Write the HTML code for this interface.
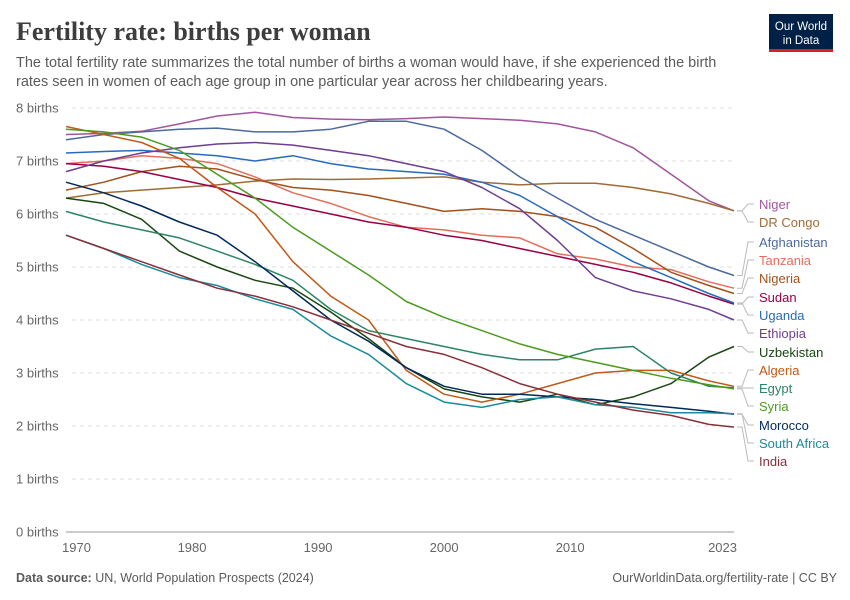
<!DOCTYPE html>
<html><head><meta charset="utf-8"><style>
body{margin:0;background:#fff;font-family:"Liberation Sans",sans-serif;}
#wrap{position:relative;width:850px;height:600px;overflow:hidden}
</style></head><body><div id="wrap">
<svg id="svg" width="850" height="600" xmlns="http://www.w3.org/2000/svg">
<text x="16" y="40" font-family="Liberation Serif,serif" font-size="26" font-weight="bold" fill="#3d3d3d">Fertility rate: births per woman</text>
<text x="16" y="67" font-size="14.5" fill="#5b5b5b">The total fertility rate summarizes the total number of births a woman would have, if she experienced the birth</text>
<text x="16" y="86" font-size="14.5" fill="#5b5b5b">rates seen in women of each age group in one particular year across her childbearing years.</text>
<g><rect x="769" y="14" width="64" height="37" fill="#002147"/><rect x="769" y="49" width="64" height="3" fill="#ce261e"/>
<text x="801" y="30" text-anchor="middle" font-size="11.5" fill="#fff">Our World</text><text x="801" y="44" text-anchor="middle" font-size="11.5" fill="#fff">in Data</text></g>
<g id="grid"></g><g id="series"></g><g id="labels"></g>
<text x="16" y="582" font-size="12.5" fill="#5b5b5b"><tspan font-weight="bold">Data source: </tspan>UN, World Population Prospects (2024)</text>
<text x="837" y="582" text-anchor="end" font-size="12.5" fill="#5b5b5b">OurWorldinData.org/fertility-rate | CC BY</text>
</svg></div>
<script>
const years=[1970,1973,1976,1979,1982,1985,1988,1991,1994,1997,2000,2003,2006,2009,2012,2015,2018,2021,2023];
const yTicks=[0,1,2,3,4,5,6,7,8];
const xTicks=[1970,1980,1990,2000,2010,2023];
const countries=["Niger","DR Congo","Afghanistan","Tanzania","Nigeria","Sudan","Uganda","Ethiopia","Uzbekistan","Algeria","Egypt","Syria","Morocco","South Africa","India"];
const colors=["#a2559c","#a06c35","#4c6a9c","#e56e5a","#a3511c","#970046","#286bbb","#6d3e91","#18470f","#c05917","#2c8465","#4c9b1f","#00295b","#1a8b9b","#883039"];
const niger=[7.5,7.52,7.56,7.7,7.85,7.92,7.82,7.79,7.78,7.8,7.83,7.8,7.77,7.7,7.55,7.25,6.75,6.25,6.06];
const drcongo=[6.3,6.4,6.45,6.5,6.55,6.62,6.66,6.65,6.66,6.68,6.7,6.6,6.55,6.58,6.58,6.5,6.38,6.2,6.06];
const afghanistan=[7.4,7.5,7.55,7.6,7.62,7.55,7.55,7.6,7.75,7.75,7.6,7.2,6.7,6.3,5.9,5.6,5.3,5.0,4.84];
const tanzania=[6.95,7.0,7.1,7.05,6.95,6.7,6.4,6.2,5.95,5.75,5.7,5.6,5.55,5.25,5.15,5.0,4.95,4.72,4.6];
const nigeria=[6.45,6.6,6.8,6.9,6.85,6.65,6.5,6.45,6.35,6.2,6.05,6.1,6.05,5.95,5.75,5.35,4.9,4.65,4.5];
const sudan=[6.95,6.9,6.8,6.65,6.5,6.3,6.15,6.0,5.85,5.75,5.6,5.5,5.35,5.2,5.05,4.9,4.7,4.45,4.3];
const uganda=[7.15,7.18,7.2,7.15,7.1,7.0,7.1,6.95,6.85,6.8,6.75,6.6,6.35,5.95,5.5,5.1,4.8,4.5,4.32];
const ethiopia=[6.8,7.0,7.15,7.25,7.32,7.35,7.3,7.2,7.1,6.95,6.8,6.5,6.1,5.5,4.8,4.55,4.4,4.2,4.0];
const uzbekistan=[6.3,6.2,5.9,5.3,5.0,4.75,4.6,4.15,3.65,3.1,2.7,2.55,2.45,2.6,2.4,2.55,2.8,3.3,3.5];
const algeria=[7.65,7.5,7.35,7.05,6.5,6.0,5.1,4.45,4.0,3.05,2.6,2.45,2.6,2.8,3.0,3.05,3.05,2.85,2.75];
const egypt=[6.05,5.85,5.7,5.55,5.3,5.05,4.75,4.2,3.8,3.65,3.5,3.35,3.25,3.25,3.45,3.5,3.0,2.75,2.72];
const syria=[7.6,7.55,7.45,7.2,6.75,6.3,5.75,5.3,4.85,4.35,4.05,3.8,3.55,3.35,3.2,3.05,2.9,2.78,2.7];
const morocco=[6.6,6.4,6.15,5.85,5.6,5.1,4.55,4.0,3.6,3.1,2.75,2.6,2.6,2.55,2.5,2.42,2.35,2.28,2.22];
const southafrica=[5.6,5.35,5.05,4.8,4.65,4.4,4.2,3.7,3.35,2.8,2.45,2.35,2.5,2.55,2.4,2.35,2.25,2.25,2.23];
const india=[5.6,5.35,5.1,4.85,4.6,4.45,4.25,4.0,3.75,3.5,3.35,3.1,2.8,2.6,2.45,2.3,2.2,2.03,1.98];
const seriesData=[niger,drcongo,afghanistan,tanzania,nigeria,sudan,uganda,ethiopia,uzbekistan,algeria,egypt,syria,morocco,southafrica,india];
const NS="http://www.w3.org/2000/svg";
const X=y=>66+(y-1970)*(734-66)/53;
const Y=v=>532-v*53;
function mk(t,a,p){const e=document.createElementNS(NS,t);for(const k in a)e.setAttribute(k,a[k]);p.appendChild(e);return e;}
const grid=document.getElementById('grid');
yTicks.forEach(v=>{
  const l=mk('line',{x1:v===0?66:72,x2:734,y1:Y(v),y2:Y(v),stroke:v===0?'#999':'#ddd','stroke-dasharray':v===0?'':'4,4'},grid);
  
  
  const t=mk('text',{x:16,y:Y(v)+4.5,'font-size':13,fill:'#666'},grid);t.textContent=v+' births';
  
  
});
xTicks.forEach(yr=>{
  const t=mk('text',{x:X(yr),y:552,'font-size':13,fill:'#666','text-anchor':yr===1970?'start':(yr===2023?'end':'middle')},grid);
  t.textContent=yr;
  if(yr===1970)t.setAttribute('x',62);
  if(yr===2023)t.setAttribute('x',737);
  
  
});
const sg=document.getElementById('series'),lg=document.getElementById('labels');
const labelY=[204,222,242,260,278,297,315,333,352,370,388,406,425,443,461];
seriesData.forEach((vals,i)=>{
  const d=vals.map((v,j)=>(j?'L':'M')+X(years[j]).toFixed(1)+' '+Y(v).toFixed(1)).join(' ');
  const p=mk('path',{d:d,fill:'none',stroke:colors[i],'stroke-width':1.5,'stroke-linejoin':'round'},sg);
  
  
  const ey=Y(vals[vals.length-1]);
  const c=mk('polyline',{points:`737,${ey} 742,${ey} 748,${labelY[i]} 754,${labelY[i]}`,fill:'none',stroke:'#bbb','stroke-width':1},lg);
  
  
  const t=mk('text',{x:759,y:labelY[i]+5,'font-size':13,fill:colors[i]},lg);
  t.textContent=countries[i];
  
  
});
</script></body></html>
